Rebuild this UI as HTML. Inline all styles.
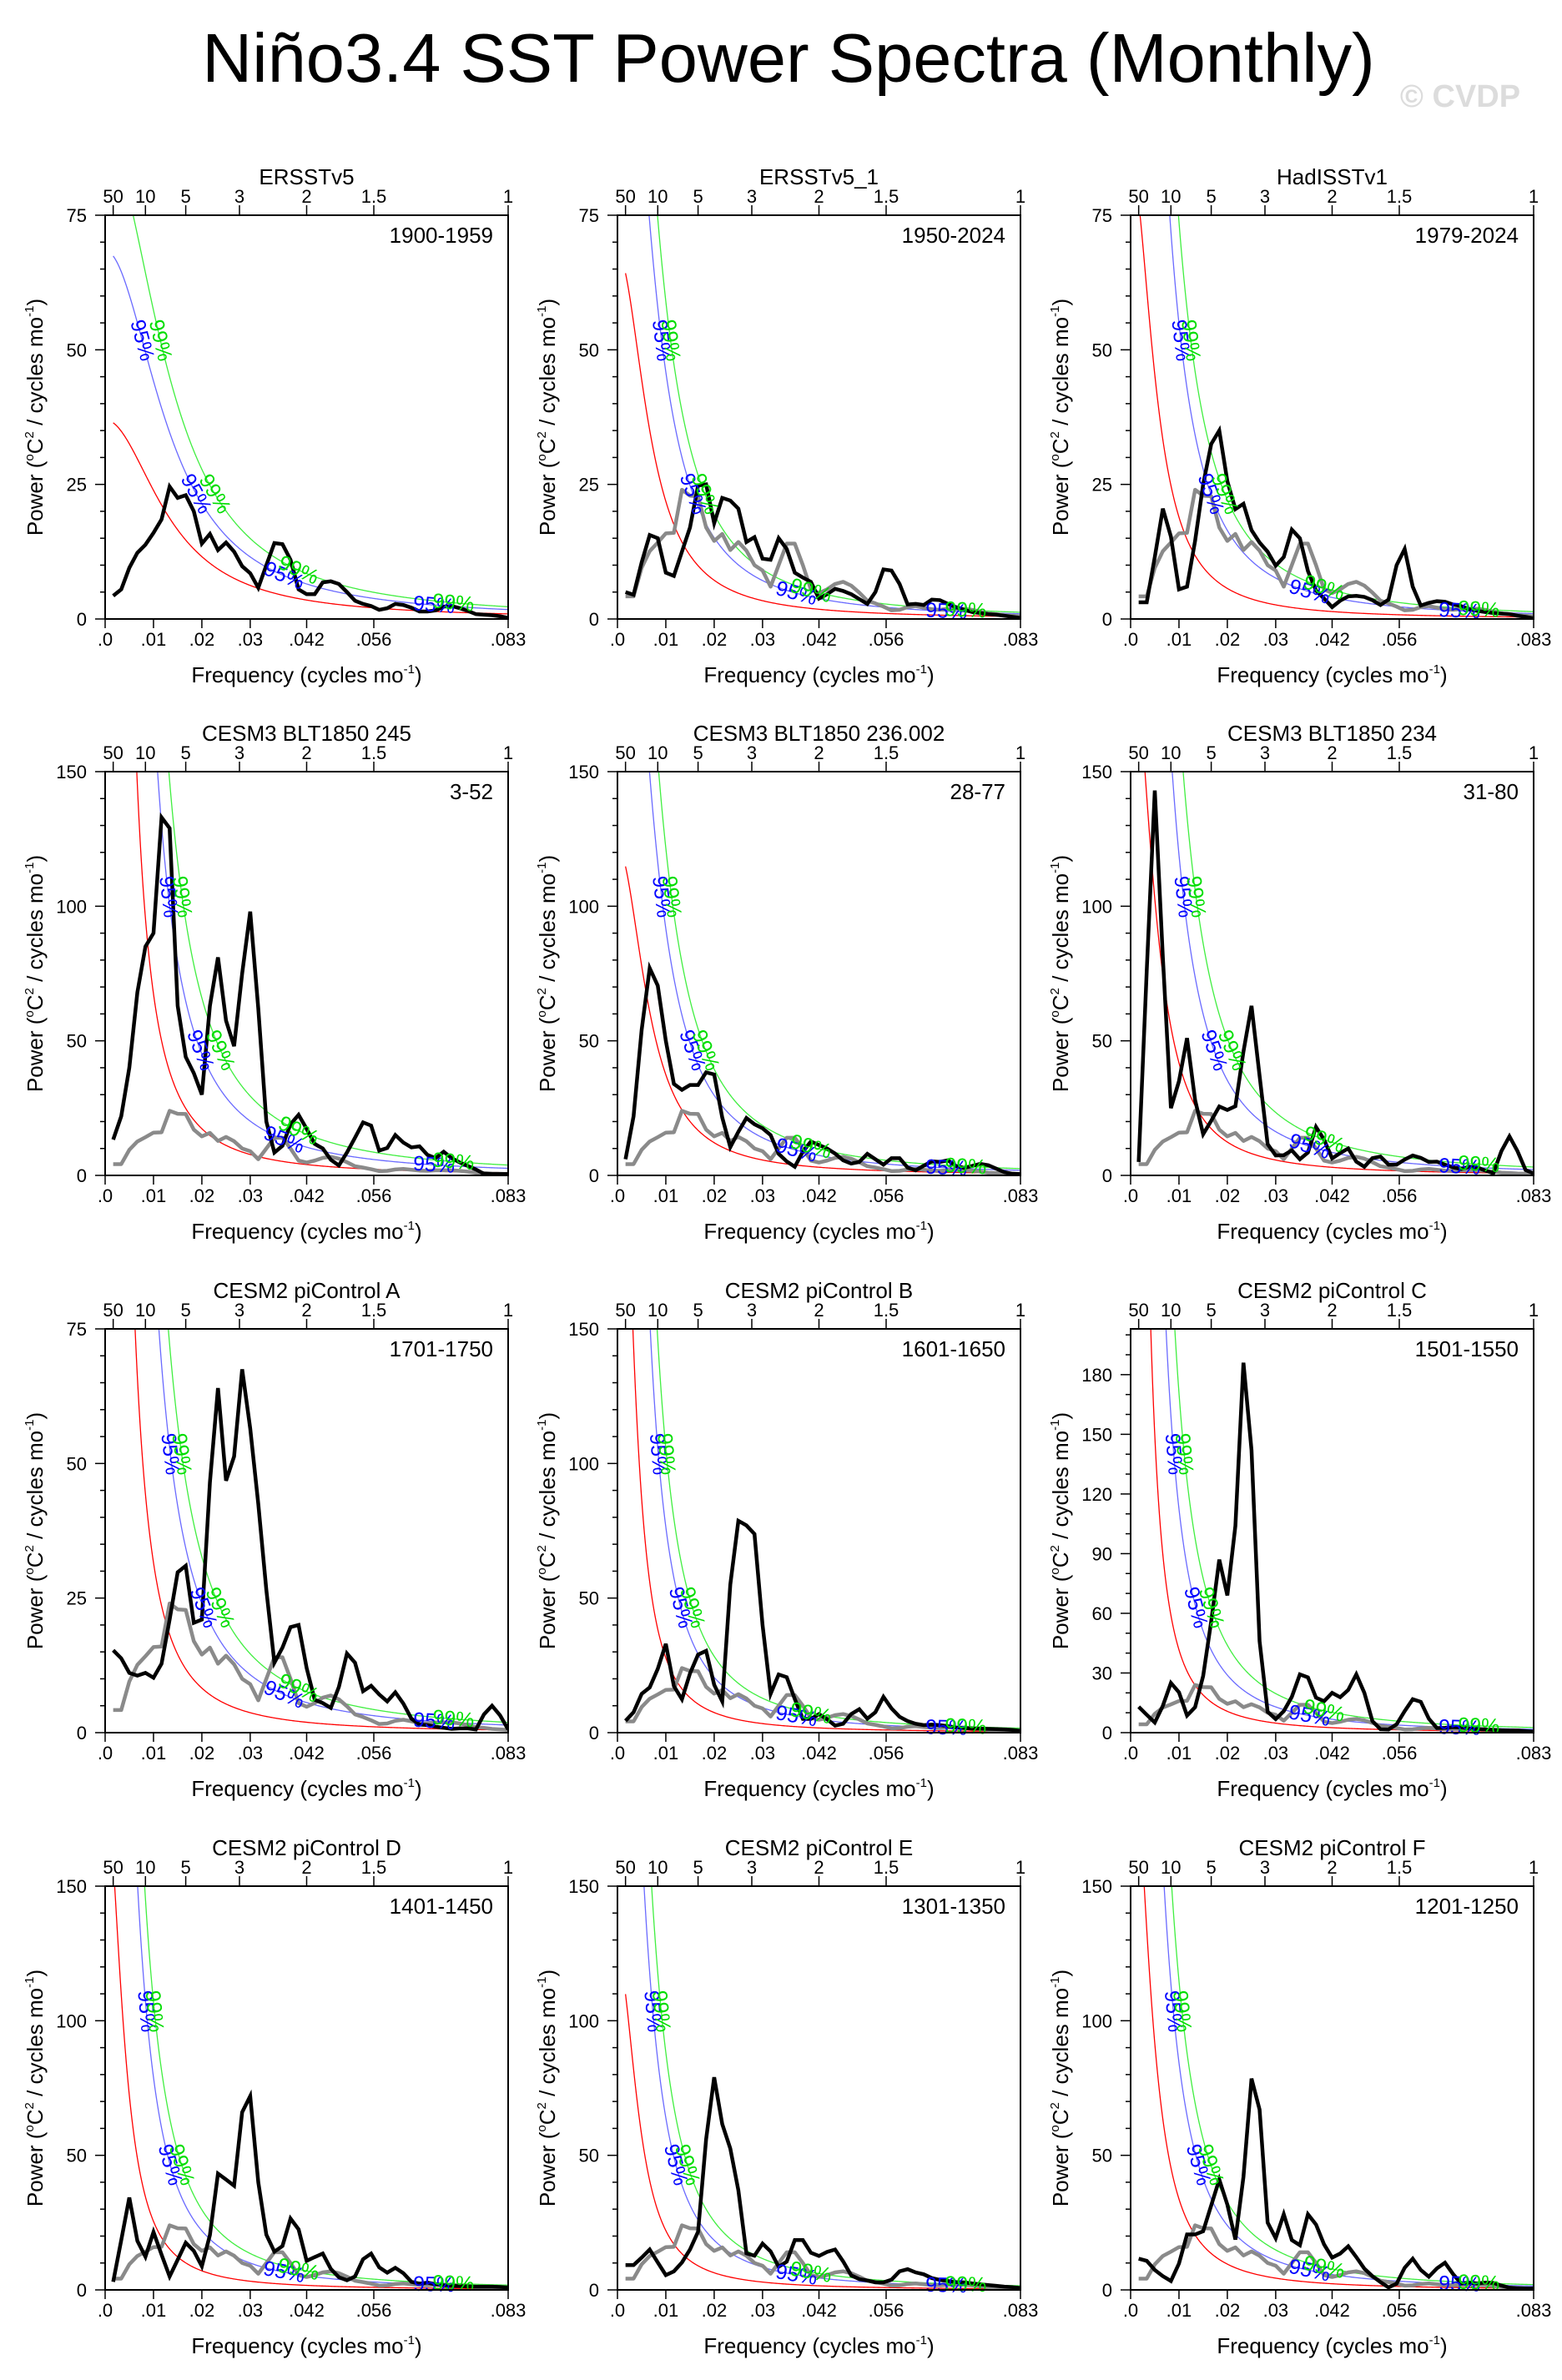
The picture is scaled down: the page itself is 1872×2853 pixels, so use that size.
<!DOCTYPE html>
<html><head><meta charset="utf-8">
<style>
body{margin:0;background:#fff}
svg{display:block;font-family:"Liberation Sans",Arial,sans-serif}
</style></head>
<body>
<svg id="fig" xmlns="http://www.w3.org/2000/svg" width="1872" height="2853" viewBox="0 0 1872 2853">
<rect x="0" y="0" width="1872" height="2853" fill="#fff"/>
<text x="945" y="98" font-size="83" text-anchor="middle">Niño3.4 SST Power Spectra (Monthly)</text>
<text x="1750" y="128" font-size="38" font-weight="bold" fill="#dcdcdc" text-anchor="middle">© CVDP</text>
</svg>
<script>
// ---------- data ----------
const panelTitles = ["ERSSTv5","ERSSTv5_1","HadISSTv1","CESM3 BLT1850 245","CESM3 BLT1850 236.002","CESM3 BLT1850 234","CESM2 piControl A","CESM2 piControl B","CESM2 piControl C","CESM2 piControl D","CESM2 piControl E","CESM2 piControl F"];
const panelRanges = ["1900-1959","1950-2024","1979-2024","3-52","28-77","31-80","1701-1750","1601-1650","1501-1550","1401-1450","1301-1350","1201-1250"];
const yMaxes = [75,75,75,150,150,150,75,150,203,150,150,150];
const yMajorSteps = [25,25,25,50,50,50,25,50,30,50,50,50];
const yMinorSteps = [5,5,5,10,10,10,5,10,10,10,10,10];
const hasGray = [false,true,true,true,true,true,true,true,true,true,true,true];
const xTickValues = [0,0.01,0.02,0.03,1/24,1/18,1/12];
const xTickLabels = [".0",".01",".02",".03",".042",".056",".083"];
const periodTickYears = [50,10,5,3,2,1.5,1];
const periodTickLabels = ["50","10","5","3","2","1.5","1"];
const freqStep = 1/600;

const spec0 = [4.3,5.5,9.5,12.3,13.8,16,18.5,24.6,22.5,23,20,14,15.8,12.8,14.2,12.5,9.8,8.5,5.8,10,14.1,13.9,11,5.5,4.6,4.6,6.8,7,6.5,5,3.4,2.8,2.4,1.7,2,2.8,2.6,2.1,1.4,1.4,1.6,2.3,2.4,2,1.5,0.9,0.8,0.7,0.5,0.2];
const spec1 = [5,4.5,10.5,15.6,15,8.6,8,12.5,17,24.8,25,17.8,22.5,22,20.5,14.3,15.2,11.2,11,15,13,8.6,7.7,6.9,3.8,4.6,5.6,5.2,4.6,3.7,2.8,5,9.2,9,6.5,2.7,2.8,2.6,3.6,3.5,2.8,2.2,1.7,1.3,1.1,0.9,0.8,0.6,0.4,0.2];
const spec2 = [3.1,3.1,11.5,20.5,15.3,5.5,6,14.5,25,32.5,35,25.6,20.4,21.4,16.5,14.2,12.5,9.9,11.5,16.6,15,8.9,5.3,3.8,2.2,3.4,4.2,4.3,4.1,3.5,2.6,3.6,10,13,6,2.5,3,3.3,3.2,2.7,2.4,1.8,1.5,1.3,1.1,1,0.9,0.6,0.4,0.1];
const spec3 = [13.3,22,40,68,85,90,133,129,63,44,38,30,63,81,57.5,48,75,98,62,20,8.5,11,19,22.5,17.3,11.7,10,5.8,3.7,8.5,14,19.7,18.5,9.2,10.2,15,12.2,10.4,10.8,7.6,6.4,8.8,6.4,4.8,3.5,2.2,0.6,0.5,0.5,0.5];
const spec4 = [6,22,54,77,70.5,50,34,31.8,33.6,33.6,38.3,37.5,21.5,10.5,16.2,21.3,19,17.5,15,8,5.2,3.2,8.8,12.6,11.3,10,8.1,5.6,4.4,5,8,6,4,6.4,6.4,2.9,1.9,3.6,5.2,5,5.6,3.5,2.8,3.5,4.3,3.8,2.5,1.2,0.6,0.5];
const spec5 = [5,76,143,81,25,35,51,28,15.3,20.3,25.6,24.3,25.7,46,63,37,11.6,7.4,7.5,9.3,6,8.5,18,13.3,6.3,8.3,10,5.1,3.2,6.4,7,4,4,5.9,7.4,6.5,5,5.1,4,3,2.4,3.2,3,1.8,0.8,9,14.5,9,2,0.7];
const spec6 = [15.3,13.8,11.1,10.6,11.1,10.2,12.8,21,29.8,31,20.4,21,46.5,64,46.8,51.3,67.5,56.5,42.5,26.5,13,15.8,19.6,20,12,6.1,5.5,4.6,8.5,14.7,13,7.7,8.7,7.1,5.8,7.5,5.4,2.6,1.5,1.4,1.1,0.9,0.7,0.8,0.8,0.6,3.4,5,3.2,0.6];
const spec7 = [4.4,7.6,14.4,16.8,23.7,33,17.3,12.4,22,29,30.4,17.8,11.6,55,78.7,77,73.8,40,14.4,21.6,20.6,12.5,5.1,5.1,6.9,5,2.6,3.3,6.9,8.7,5.2,7.6,13.3,9,5.9,4.3,3.3,2.8,3,2.8,2.4,1.9,1.7,1.5,1.5,1.4,1.3,1.2,1,0.7];
const spec8 = [13,9,5.1,13.5,25,20.3,8.6,12.8,28.5,56,87,69,104,186,142,46,10.5,6.8,10.8,18,29.3,27.8,17.6,15.8,20,17.8,21.5,29.3,20,5.8,1.7,1.6,4.2,10.8,16.8,15.5,7,2.3,2.4,2.8,2.6,2.2,1.8,1.6,1.4,1.2,1.1,1.1,0.8,0.5];
const spec9 = [3,18.5,34.3,18.2,12.3,21.5,13.1,5,11.2,17.5,14.5,8.8,20.4,43.2,41,38.7,66,72,40,20.5,14.2,16.3,26.5,22.5,10.8,12.2,13.5,7.8,4.7,3.6,5,11.4,13.5,8.4,6.4,8.2,6.2,3,2.3,2.7,2.1,1.7,1.5,1.4,1.3,1.2,1.2,1.2,1.1,0.9];
const spec10 = [9.2,9.2,12,15,10.2,5.5,6.9,10.2,15,21.6,56,79,61.6,52.5,37,13.6,12.7,17.2,14.3,8.6,10.5,18.5,18.5,13.8,12.6,14.1,15,10.6,5.4,4,3.5,2.8,2.8,3.8,6.9,7.7,6.5,5.8,4.4,3.7,3.3,2.9,2.8,2.4,2.1,1.8,1.5,1.2,1,0.7];
const spec11 = [11.6,10.8,7.4,5.1,3.3,9.8,20.6,20.6,21.8,31.4,41,31.7,18.7,42,78.5,67,25,19.2,28.1,18.5,16.6,28.1,24.3,16.9,12,13.5,16.2,12.2,7.9,5.1,2.9,0.9,2.3,8.2,11.6,7.4,4.9,8,10.1,5.9,2.4,2.7,2.4,2.7,2.6,1.6,0.8,0.6,0.5,0.5];
const obsGray = [4.2,4.2,9.5,12.6,14.2,15.9,16,24,22.9,22.8,17,14.5,15.8,12.8,14.3,12.7,10,9,6,10,14,14,10,5.5,4.8,5.5,6.5,6.9,6.2,4.9,3.4,2.9,2.3,1.6,1.7,2.2,2.4,2.1,1.8,1.7,1.9,1.9,1.9,1.7,1.4,1.0,0.9,0.7,0.6,0.5];
const blackSpectra = [spec0,spec1,spec2,spec3,spec4,spec5,spec6,spec7,spec8,spec9,spec10,spec11];

// red-noise fit parameters (amplitude, corner frequency) and significance multipliers
const redAmp = [37,68,85,1770,122,200,521,299,1083,187,124,213];
const redFc = [0.0135,0.00688,0.00535,0.00199,0.00665,0.00514,0.00254,0.0032,0.002,0.00397,0.00465,0.00434];
const blueFactor = [1.85,2.1,2.9,2.6,2.45,2.85,2.9,2.75,2.7,3.1,2.9,2.5];
const greenFactor = [2.4,2.7,3.9,3.8,3.25,4.1,3.95,3.8,4.1,4.2,4.0,3.4];

// ---------- layout ----------
const colX = [126,740,1355];
const rowY = [258,925,1593,2261];
const PW = 483, PH = 484, FMAX = 1/12;
const NS = "http://www.w3.org/2000/svg";
const svg = document.getElementById("fig");

function mk(tag, attrs, parent){
  const e = document.createElementNS(NS, tag);
  for (const k in attrs) e.setAttribute(k, attrs[k]);
  (parent || svg).appendChild(e);
  return e;
}

for (let i = 0; i < 12; i++) {
  const L = colX[i % 3], T = rowY[Math.floor(i / 3)];
  const ymax = yMaxes[i];
  const xs = f => L + f / FMAX * PW;
  const ys = v => T + PH - v / ymax * PH;

  const g = mk("g", {});
  
  

  const clip = mk("clipPath", {id: "clip" + i}, g);
  mk("rect", {x: L, y: T, width: PW, height: PH}, clip);

  const ttl = mk("text", {x: L + PW / 2, y: T - 37, "font-size": 26, "text-anchor": "middle"}, g);
  ttl.textContent = panelTitles[i];
  
  

  for (let v = 0; v <= ymax + 1e-6; v += yMinorSteps[i]) {
    const major = Math.abs(v / yMajorSteps[i] - Math.round(v / yMajorSteps[i])) < 1e-6;
    const tk = mk("line", {x1: L - (major ? 12 : 6), x2: L, y1: ys(v), y2: ys(v), stroke: "#000", "stroke-width": 1.5}, g);
    
    
    if (major) {
      const tl = mk("text", {x: L - 22, y: ys(v) + 8, "font-size": 22, "text-anchor": "end"}, g);
      tl.textContent = String(Math.round(v));
      
      
    }
  }
  xTickValues.forEach((f, j) => {
    const tk = mk("line", {x1: xs(f), x2: xs(f), y1: T + PH, y2: T + PH + 11, stroke: "#000", "stroke-width": 1.5}, g);
    
    
    const tl = mk("text", {x: xs(f), y: T + PH + 32, "font-size": 22, "text-anchor": "middle"}, g);
    tl.textContent = xTickLabels[j];
    
    
  });
  periodTickYears.forEach((p, j) => {
    const f = 1 / (12 * p);
    const tk = mk("line", {x1: xs(f), x2: xs(f), y1: T, y2: T - 12, stroke: "#000", "stroke-width": 1.5}, g);
    
    
    const tl = mk("text", {x: xs(f), y: T - 15, "font-size": 22, "text-anchor": "middle"}, g);
    tl.textContent = periodTickLabels[j];
    
    
  });

  const xt = mk("text", {x: L + PW / 2, y: T + PH + 76, "font-size": 26, "text-anchor": "middle"}, g);
  xt.innerHTML = 'Frequency (cycles mo<tspan dy="-11" font-size="15">-1</tspan><tspan dy="11">)</tspan>';
  
  
  const yt = mk("text", {x: 0, y: 0, "font-size": 26, "text-anchor": "middle", transform: "translate(" + (L - 75) + "," + (T + PH / 2) + ") rotate(-90)"}, g);
  yt.innerHTML = 'Power (<tspan dy="-11" font-size="15">o</tspan><tspan dy="11">C</tspan><tspan dy="-11" font-size="15">2</tspan><tspan dy="11"> / cycles mo</tspan><tspan dy="-11" font-size="15">-1</tspan><tspan dy="11">)</tspan>';
  
  

  const cg = mk("g", {"clip-path": "url(#clip" + i + ")"}, g);
  
  

  const redVal = f => redAmp[i] / (1 + Math.pow(f / redFc[i], 2));
  const curveDefs = [
    {factor: 1, color: "#ff0000", name: "red-noise-curve"},
    {factor: blueFactor[i], color: "#6a6aff", name: "confidence-95-curve"},
    {factor: greenFactor[i], color: "#40ee40", name: "confidence-99-curve"}
  ];
  curveDefs.forEach(c => {
    let d = "";
    for (let s = 0; s <= 400; s++) {
      const f = freqStep + (FMAX - freqStep) * s / 400;
      const v = Math.min(redVal(f) * c.factor, ymax * 3);
      d += (s ? "L" : "M") + xs(f).toFixed(2) + "," + ys(v).toFixed(2);
    }
    const p = mk("path", {d: d, fill: "none", stroke: c.color, "stroke-width": 1.3}, cg);
    
    
  });

  if (hasGray[i]) {
    let d = "";
    obsGray.forEach((v, k) => { d += (k ? "L" : "M") + xs((k + 1) * freqStep).toFixed(2) + "," + ys(v).toFixed(2); });
    const p = mk("path", {d: d, fill: "none", stroke: "#8a8a8a", "stroke-width": 4.5, "stroke-linejoin": "round"}, cg);
    
    
  }
  {
    let d = "";
    blackSpectra[i].forEach((v, k) => { d += (k ? "L" : "M") + xs((k + 1) * freqStep).toFixed(2) + "," + ys(v).toFixed(2); });
    const p = mk("path", {d: d, fill: "none", stroke: "#000", "stroke-width": 4.5, "stroke-linejoin": "miter"}, cg);
    
    
  }

  const labelDefs = [
    {factor: blueFactor[i], color: "#0000ff", text: "95%", f3: 0.037, f4: 0.068},
    {factor: greenFactor[i], color: "#00dd00", text: "99%", f3: 0.040, f4: 0.072}
  ];
  labelDefs.forEach(lb => {
    const amp = redAmp[i] * lb.factor;
    const fs = [];
    [0.69, 0.31].forEach(fr => {
      const lvl = fr * ymax;
      if (amp > lvl) fs.push(redFc[i] * Math.sqrt(amp / lvl - 1));
    });
    fs.push(lb.f3, lb.f4);
    fs.forEach(f => {
      const df = 0.0003;
      const x1 = xs(f - df), y1 = ys(redVal(f - df) * lb.factor);
      const x2 = xs(f + df), y2 = ys(redVal(f + df) * lb.factor);
      const ang = Math.atan2(y2 - y1, x2 - x1) * 180 / Math.PI;
      const cx = xs(f), cy = ys(redVal(f) * lb.factor);
      const t = mk("text", {x: 0, y: 8, "font-size": 25, "text-anchor": "middle", fill: lb.color,
        transform: "translate(" + cx.toFixed(1) + "," + cy.toFixed(1) + ") rotate(" + ang.toFixed(1) + ")"}, g);
      t.textContent = lb.text;
      
      
    });
  });

  const fr = mk("rect", {x: L, y: T, width: PW, height: PH, fill: "none", stroke: "#000", "stroke-width": 2}, g);
  
  

  const rl = mk("text", {x: L + PW - 18, y: T + 33, "font-size": 26, "text-anchor": "end"}, g);
  rl.textContent = panelRanges[i];
  
  
}
</script>
</body></html>
